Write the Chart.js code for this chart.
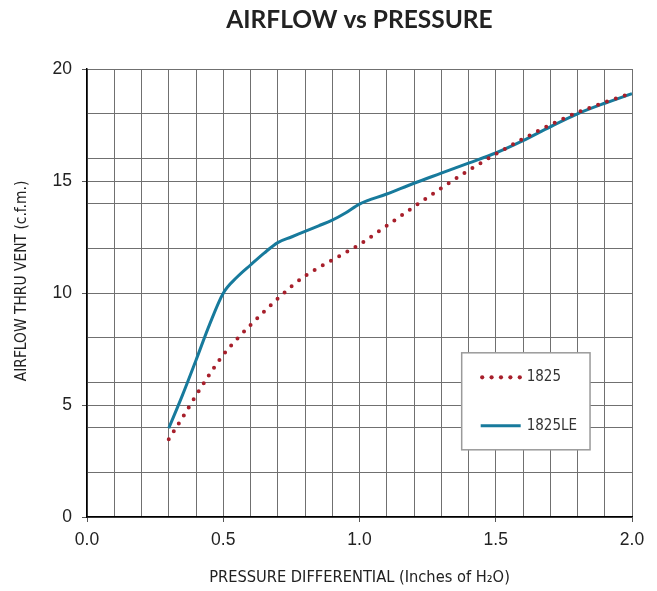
<!DOCTYPE html>
<html>
<head>
<meta charset="utf-8">
<title>Airflow vs Pressure</title>
<script src="https://cdn.jsdelivr.net/npm/chart.js@4.4.1/dist/chart.umd.min.js"></script>
<style>
    html, body { margin: 0; padding: 0; background: #fff; }
    #wrap { position: relative; width: 657px; height: 591px; }
</style>
</head>
<body>
<div id="wrap"><canvas id="airflow-chart"></canvas></div>
<script>
// Pressure differential, inches of H2O
const pressure = [0.3, 0.35, 0.4, 0.45, 0.5, 0.55, 0.6, 0.65, 0.7, 0.75, 0.8, 0.85, 0.9, 0.95, 1.0, 1.1, 1.2, 1.3, 1.4, 1.5, 1.6, 1.7, 1.8, 1.9, 2.0];
// Airflow thru vent, c.f.m.
const flow1825 = [3.47, 4.43, 5.42, 6.37, 7.24, 7.94, 8.57, 9.17, 9.75, 10.29, 10.76, 11.13, 11.47, 11.81, 12.17, 13.0, 13.85, 14.68, 15.47, 16.2, 16.88, 17.51, 18.06, 18.51, 18.93];
const flow1825LE = [3.96, 5.43, 7.0, 8.6, 9.99, 10.7, 11.25, 11.78, 12.25, 12.5, 12.75, 13.0, 13.25, 13.58, 13.97, 14.42, 14.9, 15.35, 15.8, 16.25, 16.8, 17.42, 18.0, 18.47, 18.9];

const seriesNames = ['1825', '1825LE'];
const yGridValues = [0, 2, 4, 5, 6, 8, 10, 12, 14, 15, 16, 18, 20];
const yTickLabels = [0, 5, 10, 15, 20];
const xTickLabels = [0, 0.5, 1.0, 1.5, 2.0];

const RED = '#a71f2b';
const TEAL = '#177a9c';
const TEXT = '#222';
const LABEL_FONT = '"Liberation Sans Narrow", "DejaVu Sans Condensed", "Roboto", sans-serif';

function isLabelled(list, v) {
    return list.some(t => Math.abs(t - v) < 1e-6);
}

/**
 * Titles and the boxed legend, drawn on top of the chart
 */
const chartText = {
    id: 'chartText',
    afterDraw(chart) {
        const { ctx, chartArea, scales } = chart;
        const cx = (chartArea.left + chartArea.right) / 2;
        ctx.save();
        ctx.fillStyle = TEXT;
        ctx.textAlign = 'center';
        ctx.textBaseline = 'middle';

        ctx.font = 'bold 24.5px Lato, "Open Sans", sans-serif';
        ctx.fillText('AIRFLOW vs PRESSURE', cx, 20);

        ctx.font = '16.3px ' + LABEL_FONT;
        ctx.fillText('PRESSURE DIFFERENTIAL (Inches of H\u2082O)', cx, 578);

        ctx.font = '15.4px ' + LABEL_FONT;
        ctx.translate(22, 281);
        ctx.rotate(-Math.PI / 2);
        ctx.fillText('AIRFLOW THRU VENT (c.f.m.)', 0, 0);
        ctx.restore();

        // legend box, anchored on the data scales
        const x = scales.x, y = scales.y;
        const left = x.getPixelForValue(1.375);
        const right = x.getPixelForValue(1.846);
        const top = y.getPixelForValue(7.33);
        const bottom = y.getPixelForValue(3.0);
        ctx.save();
        ctx.fillStyle = '#fff';
        ctx.fillRect(left, top, right - left, bottom - top);
        ctx.strokeStyle = '#9a9a9a';
        ctx.lineWidth = 1.5;
        ctx.strokeRect(left, top, right - left, bottom - top);

        const row1 = top + 24.5;
        const row2 = top + 73;
        const mx = left + 19;

        ctx.fillStyle = RED;
        for (let i = 0; i < 5; i++) {
            ctx.beginPath();
            ctx.arc(mx + 1.5 + i * 9.4, row1, 2.1, 0, Math.PI * 2);
            ctx.fill();
        }
        ctx.strokeStyle = TEAL;
        ctx.lineWidth = 3;
        ctx.beginPath();
        ctx.moveTo(mx, row2);
        ctx.lineTo(mx + 40, row2);
        ctx.stroke();

        ctx.fillStyle = '#333';
        ctx.font = '15px ' + LABEL_FONT;
        ctx.textAlign = 'left';
        ctx.textBaseline = 'middle';
        ctx.fillText(seriesNames[0], mx + 46, row1);
        ctx.fillText(seriesNames[1], mx + 46, row2);
        ctx.restore();
    }
};

const canvas = document.getElementById('airflow-chart');
const ctx = canvas.getContext('2d');

const chart = new Chart(ctx, {
    type: 'line',
    data: {
        datasets: [{
            label: seriesNames[0],
            data: pressure.map((p, i) => ({ x: p, y: flow1825[i] })),
            borderColor: RED,
            borderWidth: 4,
            borderDash: [0, 9.4],
            borderCapStyle: 'round',
            cubicInterpolationMode: 'monotone',
            pointRadius: 0,
            fill: false
        }, {
            label: seriesNames[1],
            data: pressure.map((p, i) => ({ x: p, y: flow1825LE[i] })),
            borderColor: TEAL,
            borderWidth: 3,
            cubicInterpolationMode: 'monotone',
            pointRadius: 0,
            fill: false
        }]
    },
    options: {
        responsive: true,
        maintainAspectRatio: false,
        animation: false,
        layout: {
            padding: { top: 69, left: 0, right: 25, bottom: 0 }
        },
        plugins: {
            legend: { display: false },
            title: { display: false },
            tooltip: { enabled: false }
        },
        scales: {
            x: {
                type: 'linear',
                min: 0,
                max: 2,
                afterFit(scale) { scale.height = 74; },
                border: { color: '#000', width: 1.5 },
                grid: {
                    color: '#707070',
                    lineWidth: 1,
                    tickLength: 5,
                    tickColor: c => isLabelled(xTickLabels, c.tick.value) ? '#555' : 'rgba(0,0,0,0)'
                },
                ticks: {
                    stepSize: 0.1,
                    autoSkip: false,
                    maxRotation: 0,
                    padding: 8,
                    color: TEXT,
                    font: { family: '"Liberation Sans", Arial, sans-serif', size: 17.5 },
                    callback: v => isLabelled(xTickLabels, v) ? v.toFixed(1) : ''
                }
            },
            y: {
                type: 'linear',
                min: 0,
                max: 20,
                afterFit(scale) { scale.width = 87; },
                afterBuildTicks(scale) {
                    scale.ticks = yGridValues.map(v => ({ value: v }));
                },
                border: { color: '#000', width: 1.5 },
                grid: {
                    color: '#707070',
                    lineWidth: 1,
                    tickLength: 5,
                    tickColor: c => isLabelled(yTickLabels, c.tick.value) ? '#555' : 'rgba(0,0,0,0)'
                },
                ticks: {
                    autoSkip: false,
                    padding: 10,
                    color: TEXT,
                    font: { family: '"Liberation Sans", Arial, sans-serif', size: 17.5 },
                    callback: v => isLabelled(yTickLabels, v) ? String(v) : ''
                }
            }
        }
    },
    plugins: [chartText]
});
</script>
</body>
</html>
